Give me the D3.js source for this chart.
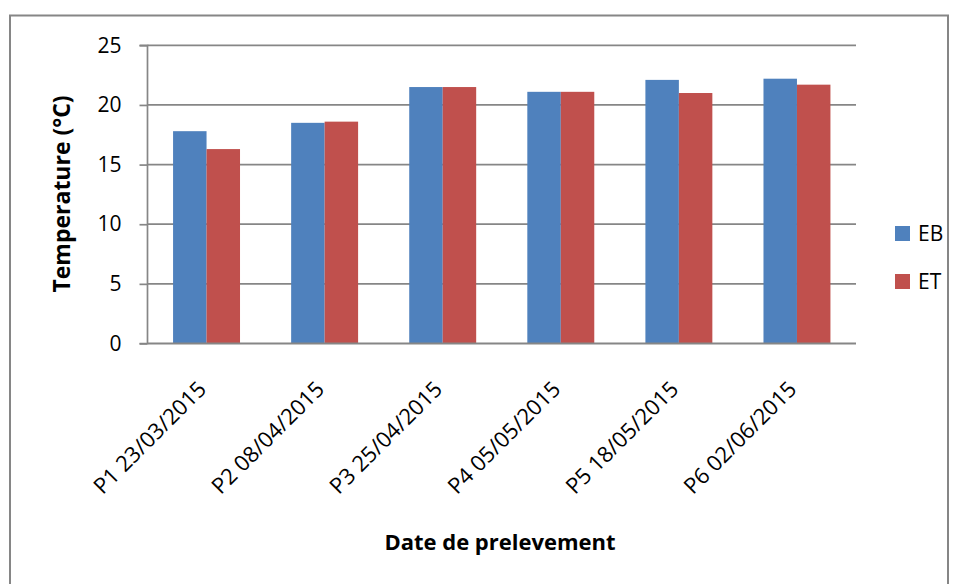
<!DOCTYPE html>
<html><head><meta charset="utf-8">
<script src="https://cdn.jsdelivr.net/npm/d3@7"></script>
<style>body{margin:0;background:#fff}svg{display:block}</style>
</head><body>
<svg id="c" width="957" height="584"></svg>
<script>
const categories = ["P1 23/03/2015","P2 08/04/2015","P3 25/04/2015","P4 05/05/2015","P5 18/05/2015","P6 02/06/2015"];
const seriesNames = ["EB","ET"];
const valuesEB = [17.8, 18.5, 21.5, 21.1, 22.1, 22.2];
const valuesET = [16.3, 18.6, 21.5, 21.1, 21.0, 21.7];
const yTicks = [0,5,10,15,20,25];
const colors = ["#4F81BD","#C0504D"];
const yTitle = "Temperature (°C)";
const xTitle = "Date de prelevement";

(function(){
const svg = d3.select("#c");
const font = "'Open Sans', sans-serif";
// frame
svg.append("rect").attr("x",10).attr("y",15.5).attr("width",938).attr("height",600)
  .attr("fill","none").attr("stroke","#868686").attr("stroke-width",2);

const pL=147.5, pR=856, pT=45.3, pB=343.5;
const x0 = d3.scaleBand().domain(categories).range([pL,pR]).paddingInner(0.433).paddingOuter(0.2165);
const x1 = d3.scaleBand().domain(seriesNames).range([0,x0.bandwidth()]);
const y = d3.scaleLinear().domain([0,25]).range([pB,pT]);

// gridlines
svg.append("g").selectAll("line").data(yTicks.filter(d=>d>0)).join("line")
  .attr("x1",pL).attr("x2",pR).attr("y1",d=>y(d)).attr("y2",d=>y(d))
  .attr("stroke","#868686").attr("stroke-width",1.7);

// bars
const data = categories.map((c,i)=>({c, vals:[valuesEB[i],valuesET[i]]}));
const g = svg.append("g").selectAll("g").data(data).join("g")
  .attr("transform",d=>`translate(${x0(d.c)},0)`);
g.selectAll("rect").data(d=>d.vals.map((v,j)=>({s:seriesNames[j],v,j}))).join("rect")
  .attr("x",d=>x1(d.s)).attr("width",x1.bandwidth())
  .attr("y",d=>y(d.v)).attr("height",d=>y(0)-y(d.v))
  .attr("fill",d=>colors[d.j]);

// y axis
const ya = svg.append("g").attr("transform",`translate(${pL},0)`)
  .call(d3.axisLeft(y).tickValues(yTicks).tickSize(8).tickPadding(18));
ya.selectAll("path,line").attr("stroke","#868686").attr("stroke-width",1.7);
ya.select(".domain").attr("d",`M-8,${pT}H0V${pB}H-8`);
ya.selectAll("text").attr("font-family",font).attr("font-size",21).attr("fill","#000");

// x axis
const xa = svg.append("g").attr("transform",`translate(0,${pB})`)
  .call(d3.axisBottom(x0).tickSize(0).tickPadding(0));
xa.select(".domain").attr("stroke","#868686").attr("stroke-width",2).attr("d",`M${pL},0H${pR}`);
xa.selectAll("text").attr("font-family",font).attr("font-size",22).attr("fill","#000")
  .attr("text-anchor","end").attr("dy",0).attr("y",0)
  .attr("transform","translate(1,47) rotate(-45)");

// titles
svg.append("text").attr("transform","translate(70,194) rotate(-90)").attr("text-anchor","middle")
  .attr("font-family",font).attr("font-weight","bold").attr("font-size",23).text(yTitle);
svg.append("text").attr("x",500).attr("y",550).attr("text-anchor","middle")
  .attr("font-family",font).attr("font-weight","bold").attr("font-size",22).text(xTitle);

// legend
const lg = svg.append("g").selectAll("g").data(seriesNames).join("g")
  .attr("transform",(d,i)=>`translate(895,${226+i*48})`);
lg.append("rect").attr("width",15).attr("height",15).attr("fill",(d,i)=>colors[i]);
lg.append("text").attr("x",23).attr("y",14.5).attr("font-family",font).attr("font-size",21).text(d=>d);
})();
</script>
</body></html>
